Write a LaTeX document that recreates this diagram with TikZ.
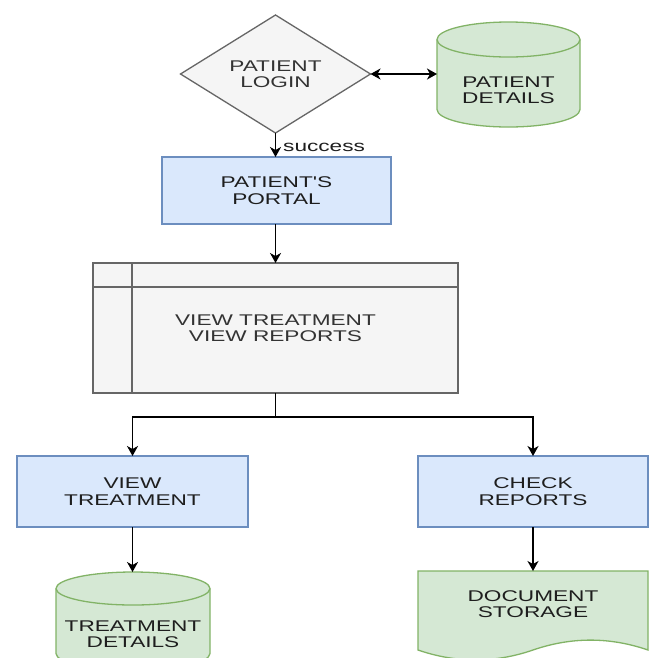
\documentclass[tikz,border=0pt]{standalone}
\usepackage{fontspec}
\newfontfamily\dfont[FakeStretch=1.46]{Liberation Sans}
\usetikzlibrary{arrows.meta,backgrounds}
\definecolor{bfill}{HTML}{DAE8FC}
\definecolor{bline}{HTML}{6C8EBF}
\definecolor{gfill}{HTML}{D5E8D4}
\definecolor{gline}{HTML}{82B366}
\definecolor{xfill}{HTML}{F5F5F5}
\definecolor{xline}{HTML}{666666}
\definecolor{xtext}{HTML}{333333}
\definecolor{dtext}{HTML}{1E1E1E}
\begin{document}
\begin{tikzpicture}[x=1pt,y=-1pt,
  lbl/.style={font=\dfont\fontsize{15.5}{16.5}\selectfont, align=center, inner sep=0pt},
  area/.style={draw=none, inner sep=0pt, outer sep=0pt},
  bluebox/.style={fill=bfill, draw=bline, line width=1.3pt},
  greenshape/.style={fill=gfill, draw=gline, line width=1.3pt},
  grayshape/.style={fill=xfill, draw=xline, line width=1.3pt},
  conn/.style={line width=1.6pt, -{Stealth[length=10pt,width=11pt,inset=3pt]}},
  line/.style={line width=1.6pt}]
\useasboundingbox (0,0) rectangle (658,657);

% nodes
\node[area, lbl, text=xtext, minimum width=190pt, minimum height=118pt] (login) at (275.5,74) {PATIENT\\LOGIN};
\node[area, minimum width=143pt, minimum height=105pt] (pdet) at (508.5,74.5) {};
\node[lbl, text=dtext] (pdettxt) at (508.5,90) {PATIENT\\DETAILS};
\node[area, lbl, text=dtext, minimum width=229pt, minimum height=67pt] (portal) at (276.5,190.5) {PATIENT'S\\PORTAL};
\node[area, lbl, text=xtext, minimum width=365pt, minimum height=130pt] (bigbox) at (275.5,328) {VIEW TREATMENT\\VIEW REPORTS};
\node[area, lbl, text=dtext, minimum width=231pt, minimum height=71pt] (vt) at (132.5,491.5) {VIEW\\TREATMENT};
\node[area, lbl, text=dtext, minimum width=230pt, minimum height=71pt] (cr) at (533,491.5) {CHECK\\REPORTS};
\node[area, minimum width=154pt, minimum height=98pt] (tdet) at (133,621) {};
\node[lbl, text=dtext] (tdettxt) at (133,634) {TREATMENT\\DETAILS};
\node[area, minimum width=230pt, minimum height=79pt] (docs) at (533,610.5) {};
\node[lbl, text=dtext] (docstxt) at (533,604) {DOCUMENT\\STORAGE};

% shapes
\begin{scope}[on background layer]
  \fill[white] (0,0) rectangle (658,657);
  \draw[grayshape] (login.north) -- (login.east) -- (login.south) -- (login.west) -- cycle;
  % patient details cylinder
  \draw[greenshape] (437,39.5) -- (437,109.5)
     arc[start angle=180, end angle=0, x radius=71.5, y radius=17.5]
     -- (580,39.5) arc[start angle=0, end angle=-180, x radius=71.5, y radius=17.5] -- cycle;
  \draw[gline, line width=1.3pt] (437,39.5) arc[start angle=180, end angle=0, x radius=71.5, y radius=17.5];
  \draw[bluebox] (portal.south west) rectangle (portal.north east);
  \draw[grayshape] (bigbox.south west) rectangle (bigbox.north east);
  \draw[xline, line width=1.3pt] (132,263) -- (132,393);
  \draw[xline, line width=1.3pt] (93,287) -- (458,287);
  \draw[bluebox] (vt.south west) rectangle (vt.north east);
  \draw[bluebox] (cr.south west) rectangle (cr.north east);
  % treatment details cylinder
  \draw[greenshape] (56,588.5) -- (56,653.5)
     arc[start angle=180, end angle=0, x radius=77, y radius=16.5]
     -- (210,588.5) arc[start angle=0, end angle=-180, x radius=77, y radius=16.5] -- cycle;
  \draw[gline, line width=1.3pt] (56,588.5) arc[start angle=180, end angle=0, x radius=77, y radius=16.5];
  % document storage
  \draw[greenshape] (418,571) -- (648,571) -- (648,650)
     .. controls (609.7,636.8) and (571.3,636.8) .. (533,650)
     .. controls (494.7,663.2) and (456.3,663.2) .. (418,650) -- cycle;
\end{scope}

% connectors
\draw[line, {Stealth[length=10pt,width=11pt,inset=3pt]}-{Stealth[length=10pt,width=11pt,inset=3pt]}]
  (login.east) -- (login.east -| pdet.west);
\draw[conn] (login.south) -- (login.south |- portal.north);
\node[lbl, anchor=base west, text=dtext] (succ) at (283,151) {success};
\draw[conn] (bigbox.north |- portal.south) -- (bigbox.north);
\draw[line] (bigbox.south) -- ++(0,24) coordinate (split);
\draw[conn] (split) -| (vt.north);
\draw[conn] (split) -| (cr.north);
\draw[conn] (vt.south) -- (vt.south |- tdet.north);
\draw[conn] (cr.south) -- (cr.south |- docs.north);
\end{tikzpicture}
\end{document}
